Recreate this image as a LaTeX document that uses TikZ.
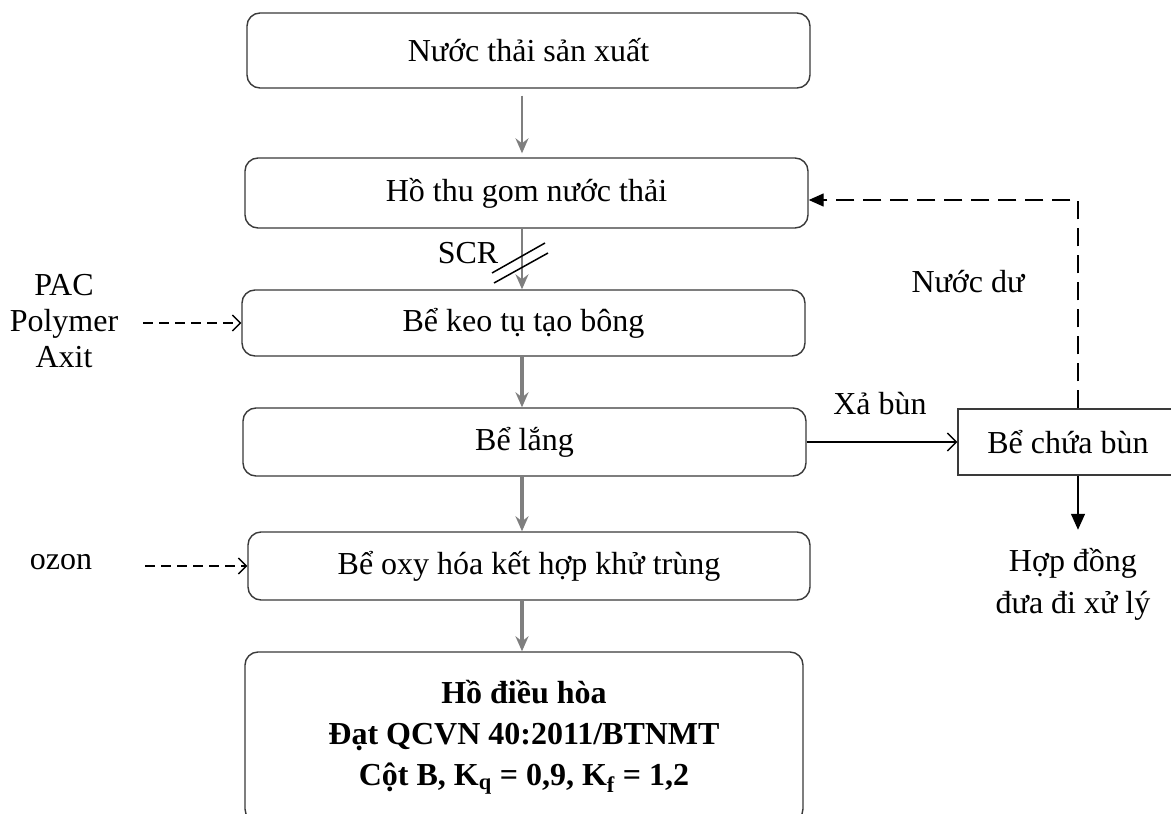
\documentclass[tikz,border=0pt]{standalone}
\usepackage{fontspec}
\setmainfont{Liberation Serif}
\usetikzlibrary{arrows.meta,calc}
\definecolor{boxline}{HTML}{3A3A3A}
\definecolor{flowgray}{HTML}{7F7F7F}
\begin{document}
\begin{tikzpicture}[x=1pt,y=-1pt,
  font=\fontsize{32}{36}\selectfont,
  stage/.style={draw=boxline, line width=1.4pt, rounded corners=13pt,
    minimum width=563pt, inner sep=0pt, align=center},
  flow/.style={draw=flowgray, line width=2pt,
    -{Stealth[length=15pt,width=13pt,inset=5pt]}},
  heavyflow/.style={flow, line width=3.6pt},
  dose/.style={draw=black, line width=1.3pt, dash pattern=on 10pt off 6pt,
    -{Straight Barb[length=8pt,width=16pt]}},
  sludge/.style={draw=black, line width=1.4pt},
  lbl/.style={inner sep=0pt, align=center}
]
\useasboundingbox (0,0) rectangle (1171,814);
\fill[white] (0,0) rectangle (1171,814);
\clip (0,0) rectangle (1171,814);

% main treatment line
\node[stage, minimum height=75pt] (b1) at (528.5,50.5) {Nước thải sản xuất};
\node[stage, minimum height=70pt] (b2) at (526.5,193) {Hồ thu gom nước thải};
\node[stage, minimum height=66pt] (b3) at (523.5,323) {Bể keo tụ tạo bông};
\node[stage, minimum height=68pt] (b4) at (524.5,442) {Bể lắng};
\node[stage, minimum height=68pt, minimum width=562pt] (b5) at (529,566) {Bể oxy hóa kết hợp khử trùng};
\node[stage, minimum height=170pt, minimum width=558pt, font=\fontsize{32}{36}\selectfont\bfseries]
  (b6) at (524,737) {Hồ điều hòa\\[5pt] Đạt QCVN 40:2011/BTNMT\\[5pt]
  Cột B, K\textsubscript{q} = 0,9, K\textsubscript{f} = 1,2};

% sludge tank
\node[draw=boxline, line width=1.4pt, minimum width=222pt, minimum height=66pt,
  inner sep=0pt] (chuabun) at (1069,442) {\hspace*{-2pt}Bể chứa bùn};
\node[lbl] (hopdong) at (1073,584) {Hợp đồng\\[6pt] đưa đi xử lý};

% side labels
\node[lbl] (hoachat) at (64,321) {PAC\\ Polymer\\ Axit};
\node[lbl] (ozon) at (61,562) {ozon};
\node[lbl] (scr) at (468,253) {SCR};
\node[lbl] (xabun) at (880,404) {Xả bùn};
\node[lbl] (nuocdu) at (968,282) {Nước dư};

% helper columns
\coordinate (ax) at (522,0);
\coordinate (fx) at (1078,0);
\coordinate (dx) at (143,0);

% main flow arrows
\draw[flow, shorten <=7pt, shorten >=4pt] (b1.south -| ax) -- (b2.north -| ax);
\draw[flow] (b2.south -| ax) -- (b3.north -| ax);
\draw[heavyflow] (b3.south -| ax) -- (b4.north -| ax);
\draw[heavyflow] (b4.south -| ax) -- (b5.north -| ax);
\draw[heavyflow] (b5.south -| ax) -- (b6.north -| ax);

% SCR double slash
\draw[black, line width=1.5pt] (492,273) -- (545,243);
\draw[black, line width=1.5pt] (494,283) -- (548,253);

% chemical dosing
\draw[dose] (b3.west -| dx) -- (b3.west);
\draw[dose] ([xshift=2pt]b5.west -| dx) -- (b5.west);

% sludge line
\draw[sludge, -{Straight Barb[length=9pt,width=18pt]}] (b4.east) -- (chuabun.west);
\draw[sludge, -{Triangle[length=16pt,width=14pt]}] (chuabun.south -| fx)
  -- ([yshift=18pt]hopdong.north -| fx);
\draw[sludge, dash pattern=on 18pt off 9pt, -{Triangle[length=15pt,width=13pt]}]
  (chuabun.north -| fx) |- ([yshift=-7pt]b2.east);
\end{tikzpicture}
\end{document}
